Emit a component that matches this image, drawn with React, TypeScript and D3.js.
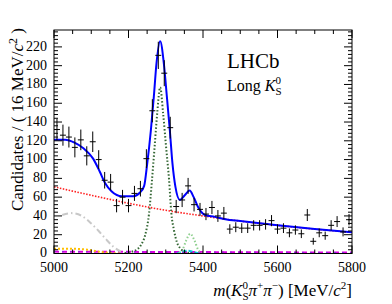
import React from 'react';
import * as d3 from 'd3';

// B0 -> KS pi pi candidates, 16 MeV bins from 5000 to 5800
const binLow = 5000;
const binWidth = 16;
const counts = [
  132, 126, 124, 113, 121, 104, 119, 100, 78, 76,
  51, 60, 51, 64, 69, 101, 152, 211, 192, 134,
  50, 57, 72, 52, 47, 42, 49, 40, 43, 26,
  28, 27, 27, 30, 30, 31, 35, 26, 27, 22,
  25, 21, 41, 13, 22, 19, 30, 34, 23, 36,
];

// fit components, [mass, candidates]
const totalFit: [number, number][] = [
  [5000, 121], [5030, 121], [5055, 118], [5079, 112], [5105, 101], [5123, 87],
  [5137, 75], [5155, 66], [5182, 61], [5213, 61], [5231, 65], [5242, 72],
  [5250, 95], [5260, 131], [5268, 167], [5275, 202], [5285, 226], [5295, 202],
  [5303, 167], [5311, 131], [5318, 96], [5326, 71], [5338, 57], [5351, 62],
  [5364, 67], [5375, 60], [5386, 50], [5405, 41], [5432, 39], [5460, 36.5],
  [5500, 34.5], [5600, 30], [5700, 26], [5800, 22.5],
];
const combinatorial: [number, number][] = [
  [5000, 71], [5100, 62], [5200, 53.5], [5300, 46], [5400, 40],
  [5500, 34.5], [5600, 30], [5700, 26], [5800, 22.5],
];
const b0Signal: [number, number][] = [
  [5190, 0.5], [5210, 2], [5225, 5], [5235, 10], [5245, 20], [5255, 42],
  [5263, 78], [5270, 113], [5277, 149], [5285, 177], [5293, 149], [5301, 113],
  [5309, 78], [5315, 43], [5322, 25], [5330, 12], [5340, 5], [5350, 2],
  [5365, 0.5], [5380, 0],
];
const bsSignal: [number, number][] = [
  [5335, 0.5], [5345, 4], [5355, 14], [5366, 21], [5377, 14], [5387, 4], [5397, 0.5],
];
const partReco: [number, number][] = [
  [5022, 41], [5047, 43], [5075, 40], [5100, 32], [5120, 24], [5140, 15],
  [5160, 7], [5180, 2], [5195, 0],
];
const yellowBkg: [number, number][] = [
  [5000, 5], [5050, 5], [5090, 4], [5120, 2], [5150, 0.5], [5180, 0],
];
const magentaBkg: [number, number][] = [
  [5000, 2], [5400, 1.5], [5800, 1],
];
const cyanBkg: [number, number][] = [
  [5330, 0], [5345, 2], [5360, 3], [5375, 1.5], [5390, 0],
];

const xMajor = [5000, 5200, 5400, 5600, 5800];
const yMajor = [0, 20, 40, 60, 80, 100, 120, 140, 160, 180, 200, 220];

const W = 392;
const H = 304;
const left = 54, right = 352, top = 30, bottom = 253.5;
const serif = "'Liberation Serif', 'Times New Roman', 'DejaVu Serif', serif";

const App: React.FC = () => {
  const x = d3.scaleLinear().domain([5000, 5800]).range([left, right]);
  const y = d3.scaleLinear().domain([0, 238]).range([bottom, top]);

  const line = d3.line<[number, number]>()
    .x(d => x(d[0]))
    .y(d => y(d[1]))
    .curve(d3.curveMonotoneX);

  const xMinor = d3.range(5000, 5801, 50);
  const yMinor = d3.range(0, 237, 4);

  return (
    <div style={{ position: 'absolute', left: 0, top: 0 }}>
      <svg width={W} height={H} style={{ display: 'block', background: '#fff', fontFamily: serif }}>
        <defs>
          <clipPath id="plot">
            <rect x={left} y={top} width={right - left} height={bottom - top} />
          </clipPath>
        </defs>

        <g clipPath="url(#plot)" fill="none">
          <path d={line(magentaBkg) ?? ''} stroke="#e000e0" strokeWidth={2} strokeDasharray="5,3" />
          <path d={line(magentaBkg) ?? ''} stroke="#8a2be2" strokeWidth={1} strokeDasharray="2,6" />
          <path d={line(yellowBkg) ?? ''} stroke="#ffc000" strokeWidth={2} strokeDasharray="2,2" />
          <path d={line(cyanBkg) ?? ''} stroke="#00c8e0" strokeWidth={2} strokeDasharray="4,2" />
          <path d={line(partReco) ?? ''} stroke="#c8c8c8" strokeWidth={2} strokeDasharray="6,3,1.5,3" />
          <path d={line(bsSignal) ?? ''} stroke="#90d090" strokeWidth={2} strokeDasharray="1.5,2" />
          <path d={line(b0Signal) ?? ''} stroke="#336633" strokeWidth={2} strokeDasharray="1.5,2" />
          <path d={line(combinatorial) ?? ''} stroke="#ff2020" strokeWidth={1.6} strokeDasharray="1.5,1.5" />
          <path d={line(totalFit) ?? ''} stroke="#0000ff" strokeWidth={2} />
        </g>

        <g stroke="#000" strokeWidth={1}>
          {counts.map((n, i) => {
            const lo = binLow + i * binWidth;
            const cx = x(lo + binWidth / 2);
            const e = Math.sqrt(n);
            return (
              <g key={i}>
                <line x1={x(lo)} x2={x(lo + binWidth)} y1={y(n)} y2={y(n)} />
                <line x1={cx} x2={cx} y1={y(n - e)} y2={y(n + e)} />
              </g>
            );
          })}
        </g>

        <g stroke="#000" strokeWidth={1} fill="none">
          <rect x={left} y={top} width={right - left} height={bottom - top} />
          {xMinor.map(v => {
            const len = xMajor.includes(v) ? 8 : 4;
            return (
              <g key={'x' + v}>
                <line x1={x(v)} x2={x(v)} y1={bottom} y2={bottom - len} />
                <line x1={x(v)} x2={x(v)} y1={top} y2={top + len} />
              </g>
            );
          })}
          {yMinor.map(v => {
            const len = v % 20 === 0 ? 8 : 4;
            return (
              <g key={'y' + v}>
                <line x1={left} x2={left + len} y1={y(v)} y2={y(v)} />
                <line x1={right} x2={right - len} y1={y(v)} y2={y(v)} />
              </g>
            );
          })}
        </g>

        <g fontSize={14} fill="#000">
          {yMajor.map(v => (
            <text key={v} x={left - 7} y={y(v) - 1} dy="0.35em" textAnchor="end">{v}</text>
          ))}
          {xMajor.map(v => (
            <text key={v} x={x(v)} y={272} textAnchor="middle">{v}</text>
          ))}
        </g>

        <text transform={`translate(23,${top - 2}) rotate(-90)`} textAnchor="end" fontSize={17}>
          Candidates / ( 16 MeV/<tspan fontStyle="italic">c</tspan>
          <tspan fontSize={12} dy={-6}>2</tspan>
          <tspan dy={6}> )</tspan>
        </text>

        <text x={right} y={296} textAnchor="end" fontSize={17}>
          <tspan fontStyle="italic">m</tspan>(<tspan fontStyle="italic">K</tspan>
          <tspan fontSize={11} dy={-7}>0</tspan>
          <tspan fontSize={11} dx={-5.5} dy={11}>S</tspan>
          <tspan dy={-4} fontStyle="italic">π</tspan>
          <tspan fontSize={11} dy={-7}>+</tspan>
          <tspan dy={7} fontStyle="italic">π</tspan>
          <tspan fontSize={11} dy={-7}>−</tspan>
          <tspan dy={7}>) [MeV/</tspan><tspan fontStyle="italic">c</tspan>
          <tspan fontSize={11} dy={-7}>2</tspan>
          <tspan dy={7}>]</tspan>
        </text>

        <text x={227} y={68} fontSize={21}>LHCb</text>
        <text x={227} y={91} fontSize={16}>
          Long <tspan fontStyle="italic">K</tspan>
          <tspan fontSize={11} dy={-7}>0</tspan>
          <tspan fontSize={11} dx={-5.5} dy={11}>S</tspan>
        </text>
      </svg>
    </div>
  );
};

export default App;
